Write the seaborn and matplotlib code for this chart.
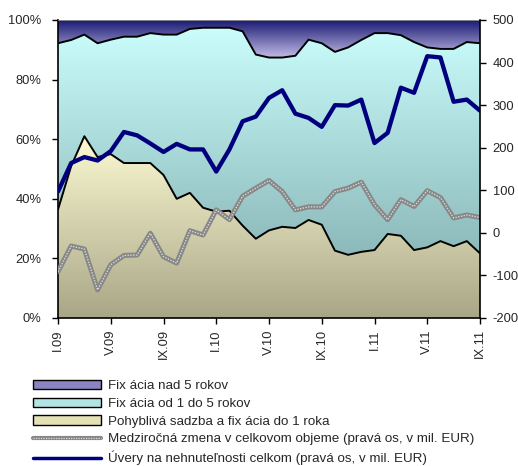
import numpy as np
import matplotlib
matplotlib.use('Agg')
import matplotlib.pyplot as plt
import seaborn as sns
from matplotlib.colors import LinearSegmentedColormap
from matplotlib.patches import Patch
from matplotlib.lines import Line2D

# Data (monthly, I.09 - IX.11)
roman = ['I', 'II', 'III', 'IV', 'V', 'VI', 'VII', 'VIII', 'IX', 'X', 'XI', 'XII']
months = [f'{m}.{y}' for y in ('09', '10', '11') for m in roman][:33]

floating = [36.4, 51.0, 61.0, 54.0, 55.0, 52.0, 52.0, 52.0, 48.0, 40.0, 42.0, 37.0, 35.7,
            36.0, 31.0, 26.6, 29.4, 30.6, 30.2, 32.9, 31.3, 22.6, 21.2, 22.2, 22.8, 28.2,
            27.6, 22.8, 23.7, 25.8, 24.1, 25.8, 21.7]
fix_1_5 = [55.8, 42.3, 34.1, 38.2, 38.4, 42.4, 42.4, 43.6, 47.1, 55.1, 55.0, 60.4, 61.7,
           61.4, 65.2, 61.8, 58.0, 56.8, 57.8, 60.5, 60.9, 66.7, 69.6, 71.1, 72.8, 67.4,
           67.3, 69.8, 67.1, 64.5, 66.2, 66.8, 70.5]
fix_over5 = [7.8, 6.7, 4.9, 7.8, 6.6, 5.6, 5.6, 4.4, 4.9, 4.9, 3.0, 2.6, 2.6, 2.6, 3.8, 11.6,
             12.6, 12.6, 12.0, 6.6, 7.8, 10.7, 9.2, 6.7, 4.4, 4.4, 5.1, 7.4, 9.2, 9.7, 9.7,
             7.4, 7.8]
yoy_change = [-91, -31, -38, -134, -75, -53, -52, -1, -56, -71, 5, -5, 54, 31, 86, 105, 123,
              97, 54, 61, 61, 97, 105, 119, 66, 31, 78, 62, 99, 83, 35, 42, 36]
loans_total = [97, 164, 178, 170, 192, 237, 229, 210, 190, 209, 196, 196, 144, 196, 262, 273,
               317, 335, 280, 270, 249, 300, 299, 313, 211, 235, 341, 329, 415, 412, 308, 313,
               287]

labels = ['Fix ácia nad 5 rokov', 'Fix ácia od 1 do 5 rokov',
          'Pohyblivá sadzba a fix ácia do 1 roka',
          'Medziročná zmena v celkovom objeme (pravá os, v mil. EUR)',
          'Úvery na nehnuteľnosti celkom (pravá os, v mil. EUR)']

sns.set_theme(style='white')
plt.rcParams['font.family'] = ['Liberation Sans', 'DejaVu Sans']
plt.rcParams['font.size'] = 9.3
plt.rcParams['axes.unicode_minus'] = False

x = np.arange(len(months))
s1 = np.array(floating)
s2 = s1 + np.array(fix_1_5)
s3 = s2 + np.array(fix_over5)


def gradient_fill(ax, y0, y1, c_top, c_bot):
    poly = ax.fill_between(x, y0, y1, facecolor='none', edgecolor='none')
    cmap = LinearSegmentedColormap.from_list('g', [c_bot, c_top])
    grad = np.linspace(0, 1, 256).reshape(-1, 1)
    im = ax.imshow(grad, cmap=cmap, aspect='auto', origin='lower', zorder=1,
                   extent=[x[0], x[-1], np.min(y0), np.max(y1)])
    im.set_clip_path(poly.get_paths()[0], transform=ax.transData)


fig = plt.figure(figsize=(5.18, 4.66), dpi=100)
ax = fig.add_axes([58 / 518, 1 - 318 / 466, 422 / 518, 298 / 466])

gradient_fill(ax, np.zeros_like(s1), s1, '#fbfad2', '#a9a687')
gradient_fill(ax, s1, s2, '#cbfdfd', '#8cb9b9')
gradient_fill(ax, s2, s3, '#1a1a72', '#c4bde8')
sns.lineplot(x=x, y=s1, color='black', lw=1.4, ax=ax, zorder=3)
sns.lineplot(x=x, y=s2, color='black', lw=1.4, ax=ax, zorder=3)

ax.set_xlim(0, 32)
ax.set_ylim(0, 100)
ax.set_yticks(range(0, 101, 20))
ax.set_yticklabels([f'{v}%' for v in range(0, 101, 20)])
ax.set_xticks(x[::4])
ax.set_xticklabels(months[::4], rotation=90)
ax.tick_params(axis='both', direction='out', length=4, width=1, color='black',
               labelsize=9.3, bottom=True, left=True)
ax.tick_params(axis='y', pad=8)
ax.tick_params(axis='x', pad=4)
for side in ('left', 'bottom'):
    ax.spines[side].set_color('black')
    ax.spines[side].set_linewidth(1.2)
ax.spines['top'].set_color('#999999')
ax.spines['top'].set_linewidth(0.6)
ax.spines['right'].set_visible(False)

ax2 = ax.twinx()
sns.lineplot(x=x, y=yoy_change, color='#878787', lw=3.6, ax=ax2)
sns.lineplot(x=x, y=yoy_change, color='#d8d8d8', lw=1.0, linestyle=(0, (1, 1)), ax=ax2)
sns.lineplot(x=x, y=loans_total, color='#00007f', lw=3.1, ax=ax2)
ax2.set_ylim(-200, 500)
ax2.set_yticks(range(-200, 501, 100))
ax2.tick_params(axis='y', direction='out', length=4, width=1, color='black',
                labelsize=9.3, pad=5, right=True)
for side in ('left', 'bottom', 'top'):
    ax2.spines[side].set_visible(False)
ax2.spines['right'].set_color('black')
ax2.spines['right'].set_linewidth(1.2)
ax2.set_xlim(0, 32)
ax2.grid(False)

handles = [
    Patch(facecolor='#8984c2', edgecolor='black', lw=1),
    Patch(facecolor='#b2e4e4', edgecolor='black', lw=1),
    Patch(facecolor='#e3e1b5', edgecolor='black', lw=1),
    (Line2D([], [], color='#878787', lw=3), Line2D([], [], color='#d8d8d8', lw=0.9, ls=(0, (1, 1)))),
    Line2D([], [], color='#00007f', lw=2.5),
]
fig.legend(handles, labels, loc='upper left', bbox_to_anchor=(33 / 518, 1 - 380 / 466),
           frameon=False, fontsize=9.6, borderpad=0, borderaxespad=0, handlelength=5.1,
           handletextpad=0.5, labelspacing=0.4)

fig.savefig('out.png', dpi=100)
